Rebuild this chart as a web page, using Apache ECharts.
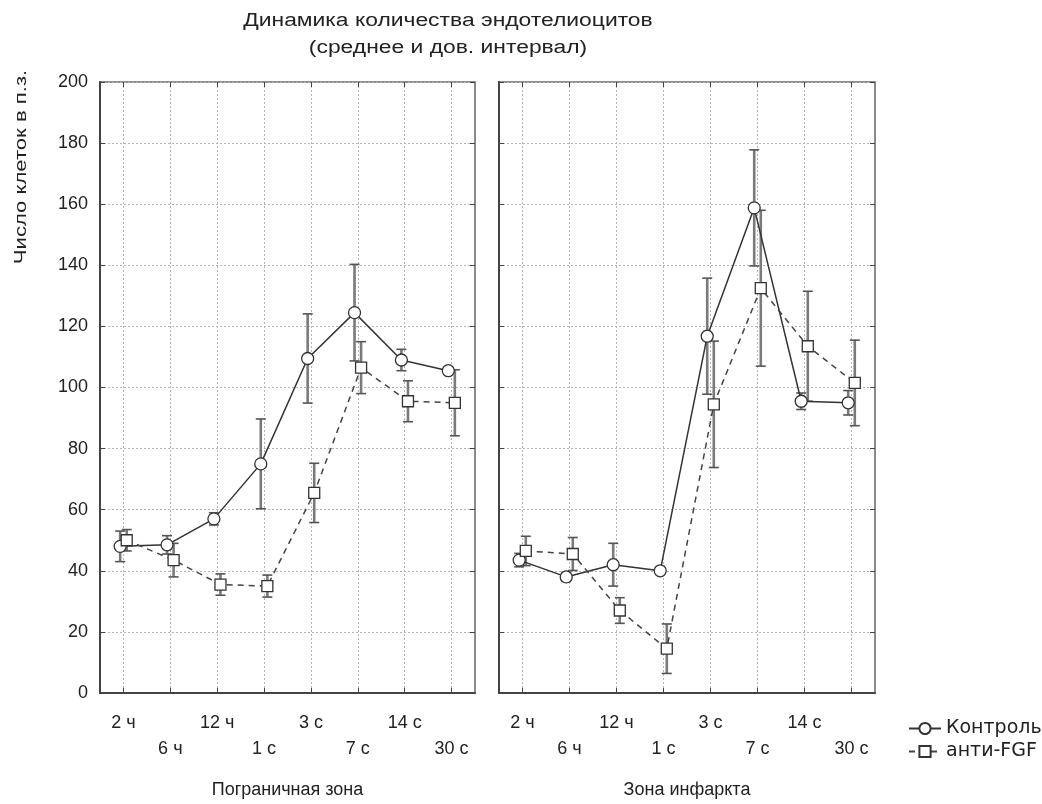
<!DOCTYPE html>
<html>
<head>
<meta charset="utf-8">
<script src="https://cdn.jsdelivr.net/npm/echarts@6/dist/echarts.min.js"></script>
<style>
html,body{margin:0;padding:0;background:#fff;}
#chart{width:1042px;height:804px;}
</style>
</head>
<body>
<div id="chart"></div>
<script>
const categories = ['2 ч', '6 ч', '12 ч', '1 с', '3 с', '7 с', '14 с', '30 с'];
const yTicks = [0, 20, 40, 60, 80, 100, 120, 140, 160, 180, 200];
const panelNames = ['Пограничная зона', 'Зона инфаркта'];
const seriesNames = ['Контроль', 'анти-FGF'];

// Пограничная зона
const borderCtrlMean = [48, 48.5, 57, 75, 109.5, 124.5, 109, 105.5];
const borderCtrlErr  = [5, 3, 2, 14.7, 14.6, 15.8, 3.5, 1];
const borderAntiMean = [50, 43.5, 35.5, 35, 65.5, 106.5, 95.5, 95];
const borderAntiErr  = [3.5, 5.5, 3.5, 3.6, 9.7, 8.5, 6.7, 10.8];
// Зона инфаркта
const infarctCtrlMean = [43.5, 38, 42, 40, 116.8, 158.8, 95.5, 95];
const infarctCtrlErr  = [2.2, 1.5, 7, 0.6, 19, 19, 2.7, 4];
const infarctAntiMean = [46.5, 45.5, 27, 14.5, 94.5, 132.5, 113.5, 101.5];
const infarctAntiErr  = [4.8, 5.4, 4.2, 8.1, 20.7, 25.5, 18, 14];

const OFF = 0.07;
const FONT = '"Liberation Sans", Arial, sans-serif';
const WIDE = '"DejaVu Sans", sans-serif';
const chart = echarts.init(document.getElementById('chart'), null, {renderer: 'canvas'});

function pts(means, off) { return means.map((v, i) => [i + off, v]); }
function errs(means, es, off) { return means.map((v, i) => [i + off, v, es[i]]); }

function errorSeries(data, xIdx, yIdx) {
  return {
    type: 'custom', xAxisIndex: xIdx, yAxisIndex: yIdx, z: 2, silent: true,
    data: data,
    renderItem: function (params, api) {
      const x = api.value(0), m = api.value(1), e = api.value(2);
      const top = api.coord([x, m + e]);
      const bot = api.coord([x, m - e]);
      const cw = 5;
      return {
        type: 'group',
        children: [
          {type: 'line', shape: {x1: top[0], y1: top[1], x2: bot[0], y2: bot[1]}, style: {stroke: '#7a7a7a', lineWidth: 2.6}},
          {type: 'line', shape: {x1: top[0] - cw, y1: top[1], x2: top[0] + cw, y2: top[1]}, style: {stroke: '#555', lineWidth: 1.6}},
          {type: 'line', shape: {x1: bot[0] - cw, y1: bot[1], x2: bot[0] + cw, y2: bot[1]}, style: {stroke: '#555', lineWidth: 1.6}}
        ]
      };
    }
  };
}

function lineSeries(name, data, xIdx, yIdx, anti) {
  return {
    name: name, type: 'line', xAxisIndex: xIdx, yAxisIndex: yIdx, z: anti ? 4 : 3,
    data: data,
    symbol: anti ? 'rect' : 'circle',
    symbolSize: anti ? 11 : 12,
    showAllSymbol: true,
    lineStyle: {color: anti ? '#444' : '#333', width: 1.5, type: anti ? [6, 5] : 'solid'},
    itemStyle: {color: '#fff', borderColor: '#333', borderWidth: 1.3},
    emphasis: {disabled: true},
    animation: false
  };
}

const grids = [
  {left: 100, top: 82, width: 375, height: 617, show: true, borderColor: '#8c8c8c', borderWidth: 2},
  {left: 499, top: 82, width: 376, height: 617, show: true, borderColor: '#8c8c8c', borderWidth: 2}
];

const xAxes = [];
const yAxes = [];
[0, 1].forEach(g => {
  xAxes.push({
    type: 'category', gridIndex: g, position: 'bottom', data: categories, boundaryGap: true,
    name: panelNames[g], nameLocation: 'middle', nameGap: 88,
    nameTextStyle: {fontFamily: FONT, fontSize: 18, color: '#222'},
    axisLine: {show: true, onZero: false, lineStyle: {color: '#444', width: 2}},
    axisTick: {show: true, inside: true, alignWithLabel: true, length: 5, lineStyle: {color: '#444'}},
    axisLabel: {interval: 0, margin: 17, fontFamily: FONT, fontSize: 18, color: '#222', lineHeight: 26,
      formatter: (v, i) => (i % 2 ? '\n' + v : v)},
    splitLine: {show: true, alignWithLabel: true, interval: 0, lineStyle: {color: '#b4b4b4', type: [2, 2], width: 1}}
  });
  xAxes.push({
    type: 'category', gridIndex: g, position: 'top', data: categories, boundaryGap: true,
    axisLine: {show: false, onZero: false},
    axisTick: {show: true, inside: true, alignWithLabel: true, length: 5, lineStyle: {color: '#444'}},
    axisLabel: {show: false}, splitLine: {show: false}
  });
  xAxes.push({
    type: 'value', gridIndex: g, min: -0.5, max: 7.5, show: false, splitLine: {show: false},
    axisLine: {onZero: false}
  });
  yAxes.push({
    type: 'value', gridIndex: g, position: 'left', min: yTicks[0], max: yTicks[yTicks.length - 1], interval: yTicks[1] - yTicks[0],
    axisLine: {show: true, onZero: false, lineStyle: {color: '#444', width: 2}},
    axisTick: {show: true, inside: true, length: 5, lineStyle: {color: '#444'}},
    axisLabel: {show: g === 0, margin: 12, fontFamily: FONT, fontSize: 18, color: '#222'},
    splitLine: {show: true, lineStyle: {color: '#b4b4b4', type: [2, 2], width: 1}}
  });
  yAxes.push({
    type: 'value', gridIndex: g, position: 'right', min: yTicks[0], max: yTicks[yTicks.length - 1], interval: yTicks[1] - yTicks[0],
    axisLine: {show: false, onZero: false},
    axisTick: {show: true, inside: true, length: 5, lineStyle: {color: '#444'}},
    axisLabel: {show: false}, splitLine: {show: false}
  });
});

const panels = [
  {x: 2, y: 0, cm: borderCtrlMean, ce: borderCtrlErr, am: borderAntiMean, ae: borderAntiErr},
  {x: 5, y: 2, cm: infarctCtrlMean, ce: infarctCtrlErr, am: infarctAntiMean, ae: infarctAntiErr}
];
const series = [];
panels.forEach(p => {
  series.push(errorSeries(errs(p.cm, p.ce, -OFF), p.x, p.y));
  series.push(errorSeries(errs(p.am, p.ae, OFF), p.x, p.y));
  series.push(lineSeries(seriesNames[0], pts(p.cm, -OFF), p.x, p.y, false));
  series.push(lineSeries(seriesNames[1], pts(p.am, OFF), p.x, p.y, true));
});

chart.setOption({
  animation: false,
  backgroundColor: '#fff',
  grid: grids,
  xAxis: xAxes,
  yAxis: yAxes,
  legend: {
    data: seriesNames, orient: 'vertical', left: 903, top: 714,
    itemWidth: 32, itemHeight: 14, itemGap: 4, selectedMode: false,
    textStyle: {fontFamily: WIDE, fontSize: 19, color: '#222'}
  },
  graphic: [
    {type: 'text', x: 448, y: 21, scaleX: 1.27, style: {text: 'Динамика количества эндотелиоцитов', textAlign: 'center', textVerticalAlign: 'middle', font: '18px ' + FONT, fill: '#222'}},
    {type: 'text', x: 448, y: 48, scaleX: 1.27, style: {text: '(среднее и дов. интервал)', textAlign: 'center', textVerticalAlign: 'middle', font: '18px ' + FONT, fill: '#222'}},
    {type: 'text', x: 21, y: 167, rotation: Math.PI / 2, scaleX: 1.3, style: {text: 'Число клеток в п.з.', textAlign: 'center', textVerticalAlign: 'middle', font: '17px ' + FONT, fill: '#222'}}
  ],
  series: series
});
</script>
</body>
</html>
